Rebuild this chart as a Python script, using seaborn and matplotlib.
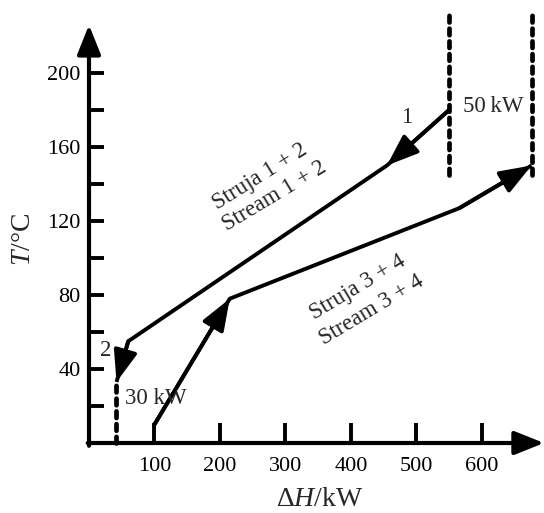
import matplotlib
matplotlib.use("Agg")
import matplotlib.pyplot as plt
import seaborn as sns
import pandas as pd

# ---- data ----
hot_dH = [550, 455, 60, 42]        # Stream 1+2 (kW)
hot_T = [180, 150, 55, 33]         # °C
cold_dH = [100, 215, 566, 676]     # Stream 3+4 (kW)
cold_T = [10, 78, 127, 150]        # °C
hot_utility_dH = [550, 676]        # 50 kW dashed boundaries
hot_utility_T = [145, 232]
cold_utility_dH = [42]             # 30 kW dashed boundary
cold_utility_T = [0, 33]
x_ticks = [100, 200, 300, 400, 500, 600]
y_ticks = [20, 40, 60, 80, 100, 120, 140, 160, 180, 200]
y_labels = ["", "40", "", "80", "", "120", "", "160", "", "200"]

sns.set_theme(style="white")
plt.rcParams["font.family"] = ["Liberation Serif", "DejaVu Serif"]
plt.rcParams["mathtext.fontset"] = "custom"
plt.rcParams["mathtext.rm"] = "Liberation Serif"
plt.rcParams["mathtext.it"] = "Liberation Serif:italic"

W, H = 544, 513
fig = plt.figure(figsize=(W / 100, H / 100), dpi=100)
fig.patch.set_facecolor("white")
ax = fig.add_axes([89 / W, 70 / H, (W - 89) / W, (486.25 - 70) / H])
ax.set_facecolor("white")
ax.set_xlim(0, 695)
ax.set_ylim(0, 225)

LW = 2.8
hot = pd.DataFrame({"dH": hot_dH, "T": hot_T})
cold = pd.DataFrame({"dH": cold_dH, "T": cold_T})
sns.lineplot(data=hot, x="dH", y="T", sort=False, estimator=None, color="black",
             lw=LW, ax=ax)
sns.lineplot(data=cold, x="dH", y="T", sort=False, estimator=None, color="black",
             lw=LW, ax=ax)
n_solid = len(ax.lines)

dash = (0, (1.4, 1.3))
def vdash(xv, trange):
    df = pd.DataFrame({"dH": [xv, xv], "T": trange})
    sns.lineplot(data=df, x="dH", y="T", sort=False, estimator=None, color="black",
                 lw=3.4, ax=ax, linestyle=dash)

for xv in hot_utility_dH:
    vdash(xv, hot_utility_T)
for xv in cold_utility_dH:
    vdash(xv, cold_utility_T)
for i, ln in enumerate(ax.lines):
    ln.set_clip_on(False)
    ln.set_solid_capstyle("butt")
    if i >= n_solid:
        ln.set_dash_capstyle("round")

head = dict(arrowstyle="-|>,head_length=1.6,head_width=0.6", mutation_scale=12,
            lw=LW, color="black", shrinkA=0, shrinkB=0)
# arrows: hot segments 0->1 and 2->3, cold segments 0->1 and 2->3
for xs, ys in ((hot_dH, hot_T), (cold_dH, cold_T)):
    for i in (0, 2):
        ax.annotate("", xy=(xs[i + 1], ys[i + 1]), xytext=(xs[i], ys[i]),
                    arrowprops=head, annotation_clip=False)

# axis lines with arrow heads
axhead = dict(arrowstyle="-|>,head_length=1.5,head_width=0.6", mutation_scale=12,
              lw=3.0, color="black", shrinkA=0, shrinkB=0)
ax.annotate("", xy=(0, 226), xytext=(0, -1.5), arrowprops=axhead, annotation_clip=False)
ax.annotate("", xy=(695, 0), xytext=(-2, 0), arrowprops=axhead, annotation_clip=False)
for s in ax.spines.values():
    s.set_visible(False)

ax.set_xticks(x_ticks)
ax.set_xticklabels([str(v) for v in x_ticks])
ax.set_yticks(y_ticks)
ax.set_yticklabels(y_labels)
ax.tick_params(axis="x", direction="in", length=14.5, width=2.8, pad=10,
               labelsize=16, colors="black", bottom=True)
ax.tick_params(axis="y", direction="in", length=11, width=2.8, pad=6,
               labelsize=16, colors="black", left=True)
ax.grid(False)
ax.set_xlabel("")
ax.set_ylabel("")

fs = 16.5
ax.text(485, 176, "1", fontsize=fs, ha="center", va="center")
ax.text(618, 182, "50\u2009kW", fontsize=fs, ha="center", va="center")
ax.text(25, 50, "2", fontsize=fs, ha="center", va="center")
ax.text(102, 24, "30 kW", fontsize=fs, ha="center", va="center")
ax.text(261, 144, "Struja 1 + 2", fontsize=fs, ha="center", va="center",
        rotation=32, rotation_mode="anchor")
ax.text(284, 133.5, "Stream 1 + 2", fontsize=fs, ha="center", va="center",
        rotation=31, rotation_mode="anchor")
ax.text(411, 84, "Struja 3 + 4", fontsize=fs, ha="center", va="center",
        rotation=31, rotation_mode="anchor")
ax.text(432, 72, "Stream 3 + 4", fontsize=fs, ha="center", va="center",
        rotation=31, rotation_mode="anchor")

fig.text(24 / W, 1 - 239 / H, "$\\it{T}$/°C", fontsize=20, rotation=90,
         ha="center", va="center")
fig.text(320 / W, 1 - 500 / H, "Δ$\\it{H}$/kW", fontsize=20,
         ha="center", va="center")

fig.savefig("out.png", dpi=100, facecolor="white")
